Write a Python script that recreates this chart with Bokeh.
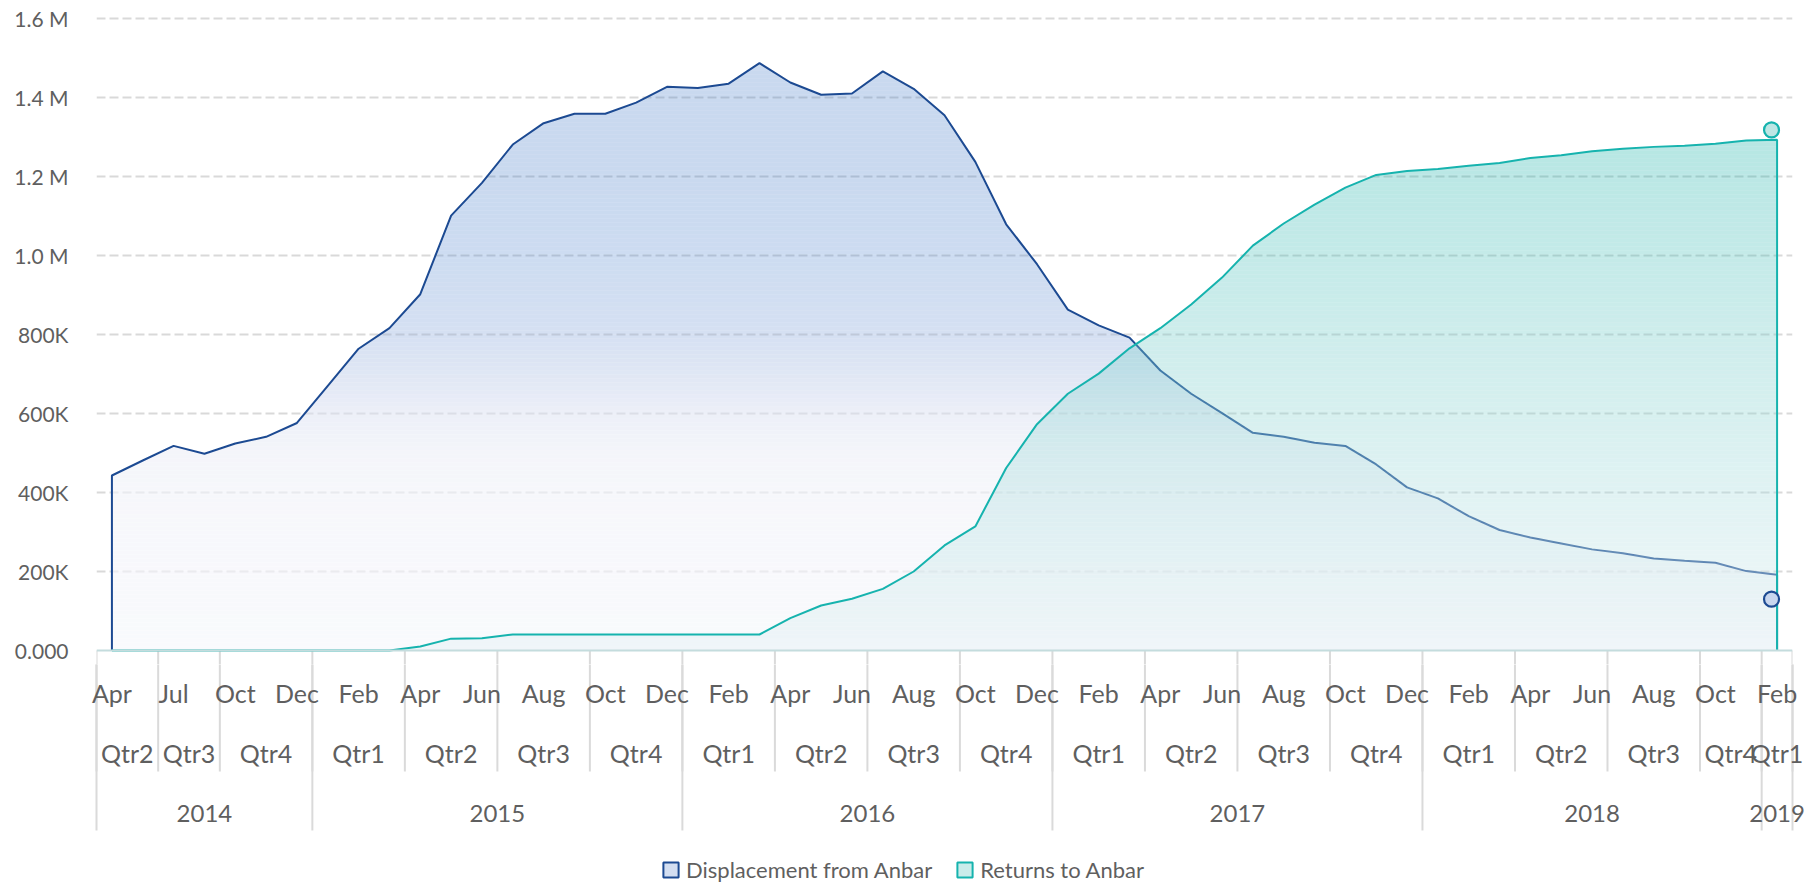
import numpy as np
from bokeh.plotting import figure
from bokeh.models import Range1d, FixedTicker, ColumnDataSource, Span, Legend, LegendItem
from bokeh.layouts import column
from bokeh.core.properties import value
from bokeh.embed import file_html
from bokeh.resources import INLINE

# ---------------- data ----------------
periods = [
    "2014-04", "2014-05", "2014-07", "2014-08", "2014-10", "2014-11", "2014-12",
    "2015-01", "2015-02", "2015-03", "2015-04", "2015-05", "2015-06",
    "2015-07", "2015-08", "2015-09", "2015-10", "2015-11", "2015-12",
    "2016-01", "2016-02", "2016-03", "2016-04", "2016-05", "2016-06",
    "2016-07", "2016-08", "2016-09", "2016-10", "2016-11", "2016-12",
    "2017-01", "2017-02", "2017-03", "2017-04", "2017-05", "2017-06",
    "2017-07", "2017-08", "2017-09", "2017-10", "2017-11", "2017-12",
    "2018-01", "2018-02", "2018-03", "2018-04", "2018-05", "2018-06",
    "2018-07", "2018-08", "2018-09", "2018-10", "2018-12",
    "2019-02",
]
month_names = ["Jan", "Feb", "Mar", "Apr", "May", "Jun",
               "Jul", "Aug", "Sep", "Oct", "Nov", "Dec"]

displacement = [
    443000, 481000, 518000, 498000, 524000, 541000, 576000,
    670000, 764000, 816000, 902000, 1101000, 1184000, 1281000, 1335000, 1359000, 1359000, 1387000, 1427000,
    1424000, 1435000, 1487000, 1438000, 1407000, 1410000, 1466000, 1422000, 1355000, 1237000, 1079000, 978000,
    863000, 823000, 792000, 709000, 650000, 601000, 551000, 541000, 526000, 518000, 471000, 413000,
    385000, 340000, 305000, 286000, 271000, 256000, 246000, 233000, 227000, 222000, 201000,
    192000,
]
returns = [
    0, 0, 0, 0, 0, 0, 0,
    0, 0, 0, 10000, 30000, 31000, 40500, 40500, 40500, 40500, 40500, 40500,
    40500, 40500, 40500, 82000, 114000, 131000, 156000, 200000, 266000, 314000, 462000, 573000,
    650000, 701000, 765000, 816000, 876000, 944000, 1025000, 1081000, 1129000, 1172000, 1204000, 1214000,
    1219000, 1227000, 1234000, 1247000, 1254000, 1264000, 1270000, 1275000, 1278000, 1283000, 1291000,
    1293000,
]
latest_returns = 1318000
latest_displacement = 130000

series_names = ["Displacement from Anbar", "Returns to Anbar"]
y_ticks = [0, 200000, 400000, 600000, 800000, 1000000, 1200000, 1400000, 1600000]
y_tick_labels = ["0.000", "200K", "400K", "600K", "800K", "1.0 M", "1.2 M", "1.4 M", "1.6 M"]

# ---------------- styling constants ----------------
FONT = "Lato"
TXT = "#5f5f5f"
BLUE_LINE = "#1c4a92"
TEAL_LINE = "#16b3ae"
GRID = "#d9d9d9"
SEP = "#dadada"

W = 1808
H_TOTAL = 883
ZERO_PX = 650          # page y of the value axis zero line
EXT = 14               # px of the main frame kept below zero
H_MAIN = ZERO_PX + EXT
H_AXIS = H_TOTAL - H_MAIN
B_LEFT, B_RIGHT, B_TOP = 96, 16, 16
FRAME_W = W - B_LEFT - B_RIGHT
N = len(periods)
PPU_X = FRAME_W / N
UNIT_PER_PX = 1600000 / 632.0
Y_END = UNIT_PER_PX * (ZERO_PX - B_TOP)
Y_START = -UNIT_PER_PX * EXT

x = np.arange(N) + 0.5


def hexcol(c):
    c = np.clip(np.round(c), 0, 255).astype(int)
    return "#%02x%02x%02x" % tuple(c)


def blue_style(v):
    m = v / 1e6
    stops = [0.0, 0.17, 0.4, 0.5, 0.6, 0.68, 0.8, 1.0, 1.2]
    cols = np.array([(249, 250, 253), (248, 249, 252), (246, 247, 251), (244, 245, 250),
                     (236, 239, 248), (226, 232, 245), (213, 224, 242), (205, 220, 241),
                     (201, 217, 239)], float)
    T = np.array([np.interp(m, stops, cols[:, i]) for i in range(3)])
    a = float(np.interp(m, [0.5, 0.9], [0.65, 0.3]))
    c = (T - (1 - a) * 255) / a
    return hexcol(c), a


def teal_style(v):
    m = v / 1e6
    top = np.array((182, 230, 227), float)
    bot = np.array((243, 248, 250), float)
    t = min(max(m / 1.3, 0), 1)
    T = bot + (top - bot) * t
    a = 0.45 + (0.30 - 0.45) * t
    c = (T - (1 - a) * 255) / a
    return hexcol(c), a


def bands(xs, ys, step, style):
    xs = list(map(float, xs))
    ys = list(map(float, ys))
    out = dict(xs=[], ys=[], color=[], alpha=[])
    k = 0
    ymax = max(ys)
    while k * step < ymax:
        lo, hi = k * step, (k + 1) * step
        tx, ty = [], []
        for i in range(len(xs)):
            if i > 0:
                x0, y0, x1, y1 = xs[i - 1], ys[i - 1], xs[i], ys[i]
                cr = []
                for lev in (lo, hi):
                    if (y0 - lev) * (y1 - lev) < 0:
                        t = (lev - y0) / (y1 - y0)
                        cr.append((x0 + t * (x1 - x0), lev))
                for xc, lev in sorted(cr):
                    tx.append(xc)
                    ty.append(lev)
            tx.append(xs[i])
            ty.append(min(max(ys[i], lo), hi))
        out["xs"].append(tx + [xs[-1], xs[0]])
        out["ys"].append(ty + [lo, lo])
        c, a = style((lo + hi) / 2)
        out["color"].append(c)
        out["alpha"].append(a)
        k += 1
    return out


# ---------------- category structure ----------------
yrs = [s[:4] for s in periods]
mons = [int(s[5:7]) for s in periods]
qtrs = ["Qtr%d" % ((m - 1) // 3 + 1) for m in mons]


def runs(keys):
    res = []
    start = 0
    for i in range(1, len(keys) + 1):
        if i == len(keys) or keys[i] != keys[start]:
            res.append((start, i, keys[start]))
            start = i
    return res


q_runs = runs(list(zip(yrs, qtrs)))
y_runs = runs(yrs)
q_bounds = sorted(set([a for a, b, k in q_runs] + [N]))
y_bounds = sorted(set([a for a, b, k in y_runs] + [N]))

# ---------------- main plot ----------------
p = figure(width=W, height=H_MAIN, x_range=Range1d(0, N), y_range=Range1d(Y_START, Y_END),
           output_backend="svg", toolbar_location=None, x_axis_location=None,
           min_border_left=B_LEFT, min_border_right=B_RIGHT, min_border_top=B_TOP,
           min_border_bottom=0, outline_line_color=None)

p.xgrid.visible = False
p.yaxis.ticker = FixedTicker(ticks=y_ticks)
p.yaxis.major_label_overrides = {t: l for t, l in zip(y_ticks, y_tick_labels)}
p.yaxis.axis_line_color = None
p.yaxis.major_tick_line_color = None
p.yaxis.minor_tick_line_color = None
p.yaxis.major_tick_out = 0
p.yaxis.major_tick_in = 0
p.yaxis.major_label_standoff = 28
p.yaxis.major_label_text_font = FONT
p.yaxis.major_label_text_font_size = "21px"
p.yaxis.major_label_text_color = TXT

p.ygrid.ticker = FixedTicker(ticks=y_ticks[1:])
p.ygrid.grid_line_color = GRID
p.ygrid.grid_line_width = 2
p.ygrid.grid_line_dash = "9 4"

# top part of the category separators (continued in the axis strip below)
p.segment(x0=q_bounds, y0=[0] * len(q_bounds), x1=q_bounds, y1=[Y_START] * len(q_bounds),
          line_color=SEP, line_width=2)

step = 4 * UNIT_PER_PX

bd = bands(x, displacement, step, blue_style)
p.patches(xs="xs", ys="ys", source=ColumnDataSource(bd), fill_color="color",
          fill_alpha="alpha", line_color=None)
p.line(np.concatenate([[x[0]], x, [x[-1]]]), np.concatenate([[0], displacement, [0]]),
       line_color=BLUE_LINE, line_width=2)

bt = bands(x, returns, step, teal_style)
p.patches(xs="xs", ys="ys", source=ColumnDataSource(bt), fill_color="color",
          fill_alpha="alpha", line_color=None)
p.line(np.concatenate([[x[0]], x, [x[-1]]]), np.concatenate([[0], returns, [0]]),
       line_color=TEAL_LINE, line_width=2)

p.add_layout(Span(location=0, dimension="width", line_color="#c4dcdd", line_width=2))

mx = x[-1] - 0.18
p.scatter([mx], [latest_returns], size=15, marker="circle", fill_color="#bde6e4",
          line_color=TEAL_LINE, line_width=2.2)
p.scatter([mx], [latest_displacement], size=15, marker="circle", fill_color="#c8d6ee",
          line_color=BLUE_LINE, line_width=2.2)

# ---------------- hierarchical axis strip ----------------
# y is measured in px below the zero line
x_lo = -B_LEFT / PPU_X
x_hi = N + B_RIGHT / PPU_X
q = figure(width=W, height=H_AXIS, x_range=Range1d(x_lo, x_hi),
           y_range=Range1d(EXT + H_AXIS, EXT),
           output_backend="svg", toolbar_location=None, x_axis_location=None,
           y_axis_location=None, min_border=0, outline_line_color=None, frame_align=False)
q.grid.visible = False

m_src = dict(x=[], y=[], text=[])
for i, m in enumerate(mons):
    if i % 2 == 0:
        m_src["x"].append(i + 0.5)
        m_src["y"].append(42)
        m_src["text"].append(month_names[m - 1])

q_src = dict(x=[(a + b) / 2 for a, b, k in q_runs], y=[102] * len(q_runs),
             text=[k[1] for a, b, k in q_runs])
y_src = dict(x=[(a + b) / 2 for a, b, k in y_runs], y=[163] * len(y_runs),
             text=[k for a, b, k in y_runs])

q.segment(x0=q_bounds, y0=[0] * len(q_bounds), x1=q_bounds, y1=[121] * len(q_bounds),
          line_color=SEP, line_width=2)
q.segment(x0=y_bounds, y0=[0] * len(y_bounds), x1=y_bounds, y1=[180] * len(y_bounds),
          line_color=SEP, line_width=2)

for src, size in ((m_src, "25px"), (q_src, "25px"), (y_src, "24px")):
    q.text(x="x", y="y", text="text", source=ColumnDataSource(src),
           text_font=value(FONT), text_font_size=size, text_color=TXT,
           text_align="center", text_baseline="alphabetic")

# legend (swatch renderers hold one undrawn row so their icons render)
nan = [float("nan")]
r1 = q.quad(left=nan, right=nan, top=nan, bottom=nan, fill_color="#d3def1",
            line_color=BLUE_LINE, line_width=2)
r2 = q.quad(left=nan, right=nan, top=nan, bottom=nan, fill_color="#caecea",
            line_color=TEAL_LINE, line_width=2)
legend = Legend(items=[LegendItem(label=series_names[0], renderers=[r1]),
                       LegendItem(label=series_names[1], renderers=[r2])],
                orientation="horizontal", location=(661, 0),
                glyph_width=19, glyph_height=19, label_standoff=6, spacing=23,
                padding=0, margin=0, border_line_color=None, background_fill_alpha=0,
                label_text_font=FONT, label_text_font_size="22px", label_text_color=TXT)
q.add_layout(legend)

layout = column(p, q)
open("out.html", "w").write(file_html(layout, INLINE))
